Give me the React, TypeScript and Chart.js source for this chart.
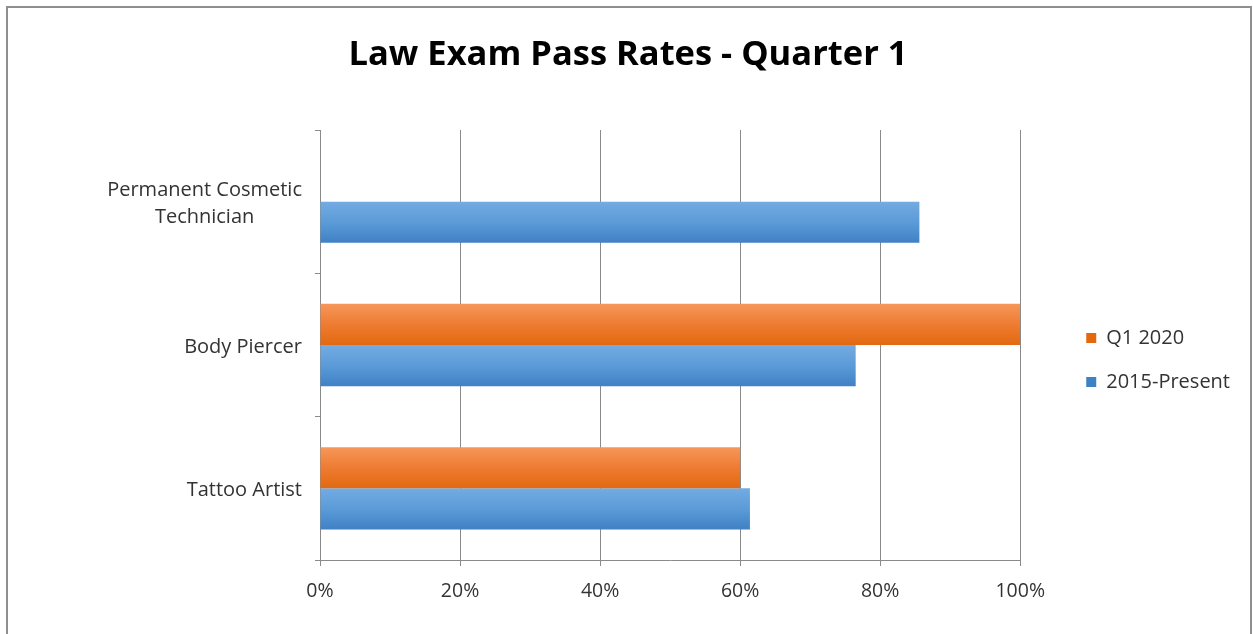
import React, { useEffect, useRef } from 'react';
import { Chart, registerables } from 'chart.js';

Chart.register(...registerables);

const TITLE = 'Law Exam Pass Rates - Quarter 1';
const categories: (string | string[])[] = [['Permanent Cosmetic', 'Technician'], 'Body Piercer', 'Tattoo Artist'];
const seriesLabels = ['Q1 2020', '2015-Present'];
const q1_2020: (number | null)[] = [null, 100, 60];
const present2015: number[] = [85.6, 76.5, 61.4];
const xTickValues = [0, 20, 40, 60, 80, 100];

const SOLID = ['#ED7D31', '#5B9BD5'];
const GRAD = [
  ['#F6975A', '#EE7B32', '#E2690F'],
  ['#74ABE2', '#5B9BD8', '#3F81C5'],
];
const CAT_PCT = 0.574;
const GRID = '#8a8a8a';
const TEXT = '#333333';
const FONT = "'Open Sans', sans-serif";

function barFill(ds: number) {
  return (c: any) => {
    if (c.type !== 'data') return SOLID[ds];
    const chart = c.chart;
    const ys = chart.scales && chart.scales.y;
    if (!ys || !chart.chartArea) return SOLID[ds];
    const center = ys.getPixelForValue(c.dataIndex);
    const band = Math.abs(ys.getPixelForValue(1) - ys.getPixelForValue(0));
    if (!isFinite(center) || !isFinite(band) || band <= 0) return SOLID[ds];
    const thick = (band * CAT_PCT) / 2;
    const top = center - thick + ds * thick;
    const g = chart.ctx.createLinearGradient(0, top, 0, top + thick);
    g.addColorStop(0, GRAD[ds][0]);
    g.addColorStop(0.5, GRAD[ds][1]);
    g.addColorStop(1, GRAD[ds][2]);
    return g;
  };
}

const categoryLabels = {
  id: 'categoryLabels',
  afterDraw(chart: any) {
    const ys = chart.scales.y;
    const ctx = chart.ctx;
    ctx.save();
    ctx.font = `20px ${FONT}`;
    ctx.fillStyle = TEXT;
    ctx.textAlign = 'center';
    ctx.textBaseline = 'middle';
    const right = chart.chartArea.left - 18;
    categories.forEach((c, i) => {
      const lines = Array.isArray(c) ? c : [c];
      const w = Math.max(...lines.map((l) => ctx.measureText(l).width));
      const cx = right - w / 2;
      const cy = ys.getPixelForValue(i) + 2;
      lines.forEach((l, k) => ctx.fillText(l, cx, cy + (k - (lines.length - 1) / 2) * 27));
    });
    ctx.restore();
  },
};

const boxShift = {
  id: 'boxShift',
  afterLayout(chart: any) {
    const l = chart.legend;
    if (l) {
      l.left += 42;
      l.right += 42;
      l.top += 15;
      l.bottom += 15;
    }
    const t = chart.titleBlock;
    if (t) {
      t.left += 29;
      t.right += 29;
    }
  },
};

export default function App() {
  const ref = useRef<HTMLCanvasElement>(null);
  useEffect(() => {
    document.body.style.margin = '0';
    document.body.style.overflow = 'hidden';
    const chart = new Chart(ref.current!, {
      type: 'bar',
      data: {
        labels: categories as any,
        datasets: [
          {
            label: seriesLabels[0],
            data: q1_2020 as any,
            backgroundColor: barFill(0) as any,
            borderWidth: 0,
            barPercentage: 1,
            categoryPercentage: CAT_PCT,
          },
          {
            label: seriesLabels[1],
            data: present2015,
            backgroundColor: barFill(1) as any,
            borderWidth: 0,
            barPercentage: 1,
            categoryPercentage: CAT_PCT,
          },
        ],
      },
      options: {
        indexAxis: 'y',
        responsive: false,
        animation: false,
        devicePixelRatio: 1,
        layout: { padding: { left: 0, right: 55, top: 0, bottom: 24 } },
        plugins: {
          title: {
            display: true,
            text: TITLE,
            color: '#000000',
            font: { family: FONT, size: 34.5, weight: 'bold' },
            padding: { top: 34, bottom: 54.6 },
          },
          legend: {
            position: 'right',
            align: 'center',
            fullSize: false,
            labels: {
              boxWidth: 10,
              boxHeight: 10,
              padding: 24,
              color: TEXT,
              font: { family: FONT, size: 20 },
            },
          },
          tooltip: { enabled: false },
        },
        scales: {
          x: {
            type: 'linear',
            min: 0,
            max: 100,
            afterBuildTicks: (s: any) => {
              s.ticks = xTickValues.map((v) => ({ value: v }));
            },
            afterFit: (s: any) => {
              s.height = 50;
            },
            grid: { color: GRID, tickLength: 6, drawTicks: true },
            border: { color: GRID },
            ticks: {
              padding: 14,
              color: TEXT,
              font: { family: FONT, size: 19.5 },
              callback: (v: any) => v + '%',
            },
          },
          y: {
            type: 'category',
            afterFit: (s: any) => {
              s.width = 320;
            },
            grid: { drawOnChartArea: false, color: GRID, tickLength: 5 },
            border: { color: GRID },
            ticks: { display: false },
          },
        },
      } as any,
      plugins: [categoryLabels, boxShift],
    });
    return () => chart.destroy();
  }, []);
  return (
    <div style={{ position: 'relative', width: 1253, height: 634, background: '#ffffff', overflow: 'hidden' }}>
      <canvas ref={ref} width={1253} height={634} style={{ display: 'block', width: 1253, height: 634 }} />
      <div
        style={{
          position: 'absolute',
          left: 6,
          top: 6,
          width: 1246,
          height: 700,
          border: '2px solid #8f8f8f',
          boxSizing: 'border-box',
          pointerEvents: 'none',
        }}
      />
    </div>
  );
}
